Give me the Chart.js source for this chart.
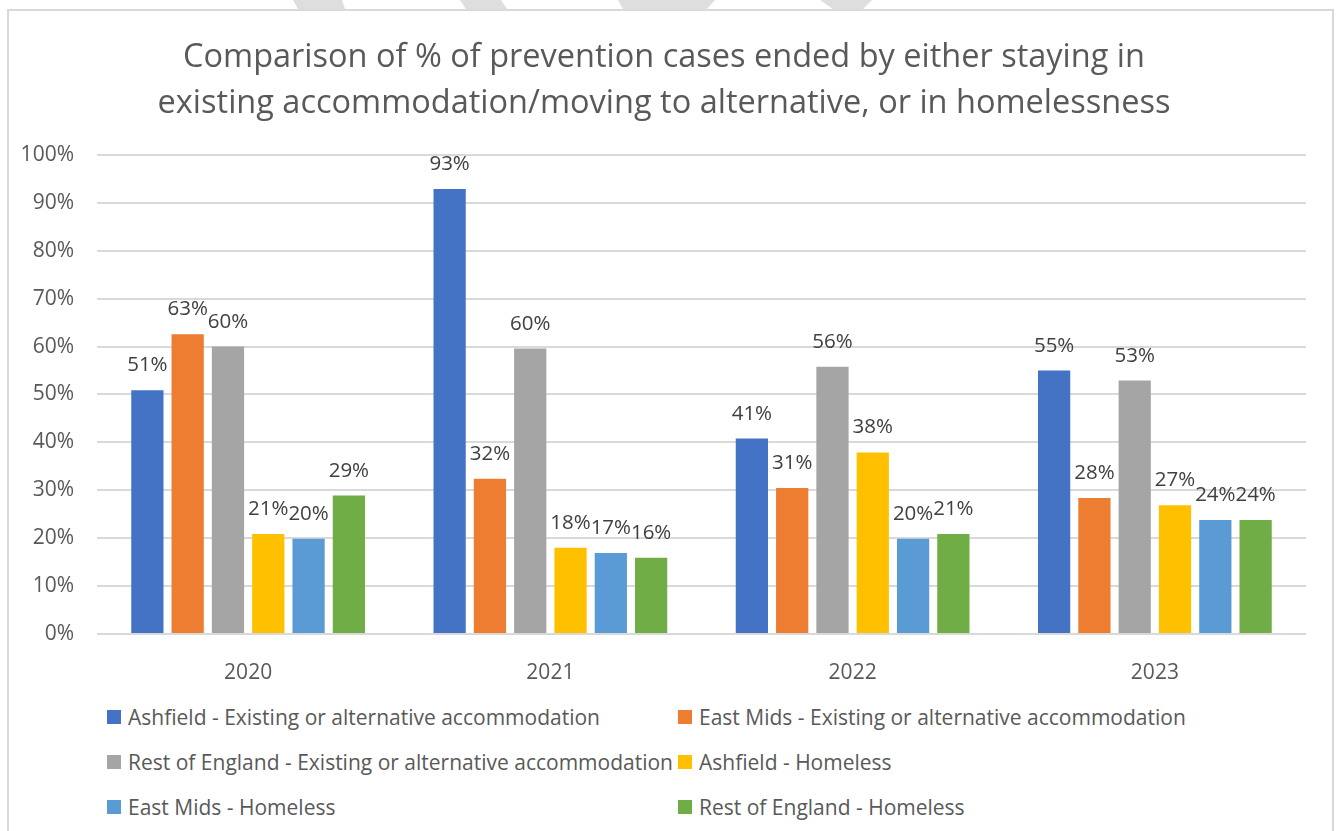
<!DOCTYPE html>
<html>
<head>
<meta charset="utf-8">
<script src="https://cdn.jsdelivr.net/npm/chart.js@4"></script>
<style>
  body { margin: 0; background: #fff; width: 1339px; height: 831px; overflow: hidden; position: relative; font-family: "Open Sans", sans-serif; }
  #frame { position: absolute; left: 7px; top: 9px; width: 1327px; height: 840px; border: 2px solid #d9d9d9; box-sizing: border-box; }
  #marks { position: absolute; left: 0; top: 0; }
  #chart_box { position: absolute; left: 0; top: 0; width: 1339px; height: 700px; }
  .legend_item { position: absolute; display: flex; align-items: center; font-size: 21px; color: #595959; white-space: nowrap; height: 30px; }
  .legend_box { width: 14px; height: 14px; margin-right: 7px; }
</style>
</head>
<body>
<svg id="marks" width="1339" height="12">
  <polygon points="293,0 342,0 345,9 298,9" fill="#dedede"/>
  <polygon points="460,0 501,0 507,9 466,9" fill="#dedede"/>
  <polygon points="618,0 715,0 707,9 623,9" fill="#dedede"/>
  <polygon points="820,0 872,0 863,9 833,9" fill="#dedede"/>
</svg>
<div id="frame"></div>
<div id="chart_box"><canvas id="chart"></canvas></div>
<div id="legend"></div>
<script>
const years = ["2020", "2021", "2022", "2023"];
const series_names = [
    "Ashfield - Existing or alternative accommodation",
    "East Mids - Existing or alternative accommodation",
    "Rest of England - Existing or alternative accommodation",
    "Ashfield - Homeless",
    "East Mids - Homeless",
    "Rest of England - Homeless"
];
const ashfield_existing = [50.9, 92.9, 40.8, 55.0];
const eastmids_existing = [62.6, 32.4, 30.5, 28.4];
const england_existing = [60.0, 59.6, 55.8, 52.9];
const ashfield_homeless = [20.9, 18.0, 37.9, 26.9];
const eastmids_homeless = [19.9, 16.9, 19.9, 23.8];
const england_homeless = [28.9, 15.9, 20.9, 23.8];
const colours = ["#4472C4", "#ED7D31", "#A5A5A5", "#FFC000", "#5B9BD5", "#70AD47"];
const y_ticks = [0, 10, 20, 30, 40, 50, 60, 70, 80, 90, 100];

const all_series = [ashfield_existing, eastmids_existing, england_existing,
                    ashfield_homeless, eastmids_homeless, england_homeless];

// value labels above each bar, like the Excel data labels
const bar_labels = {
    id: "bar_labels",
    afterDatasetsDraw(chart) {
        const ctx = chart.ctx;
        ctx.save();
        ctx.font = '20.5px "Open Sans"';
        ctx.fillStyle = "#404040";
        ctx.textAlign = "center";
        ctx.textBaseline = "alphabetic";
        chart.data.datasets.forEach((ds, i) => {
            const meta = chart.getDatasetMeta(i);
            meta.data.forEach((bar, j) => {
                ctx.fillText(Math.round(ds.data[j]) + "%", bar.x, bar.y - 19);
            });
        });
        ctx.restore();
    }
};

function draw_chart() {
    const chart = new Chart(document.getElementById("chart"), {
        type: "bar",
        data: {
            labels: years,
            datasets: all_series.map((vals, i) => ({
                label: series_names[i],
                data: vals,
                backgroundColor: colours[i],
                categoryPercentage: 0.8,
                barPercentage: 0.8
            }))
        },
        options: {
            responsive: false,
            animation: false,
            layout: { padding: { left: 22, right: 33, top: 0, bottom: 0 } },
            plugins: {
                legend: { display: false },
                tooltip: { enabled: false },
                title: {
                    display: true,
                    text: ["Comparison of % of prevention cases ended by either staying in",
                           "existing accommodation/moving to alternative, or in homelessness"],
                    color: "#595959",
                    font: { family: "Open Sans", size: 32.5, weight: "normal", lineHeight: 1.415 },
                    padding: { top: 35, bottom: 28 }
                }
            },
            scales: {
                x: {
                    grid: { display: false },
                    border: { display: false },
                    ticks: { color: "#595959", font: { family: "Open Sans", size: 21 }, padding: 18 },
                    afterFit(scale) { scale.height = 66; }
                },
                y: {
                    min: 0,
                    max: 100,
                    afterBuildTicks(scale) { scale.ticks = y_ticks.map(v => ({ value: v })); },
                    grid: { color: "#d9d9d9", lineWidth: 2, drawTicks: false },
                    border: { display: false },
                    ticks: {
                        color: "#595959",
                        font: { family: "Open Sans", size: 21 },
                        padding: 23,
                        callback: v => v + "%"
                    },
                    afterFit(scale) { scale.width = 75; }
                }
            }
        },
        plugins: [bar_labels]
    });

    // legend in two columns, as in the original
    const legend = document.getElementById("legend");
    const col_x = [107, 678];
    const row_y = [702, 747, 792];
    chart.data.datasets.forEach((ds, i) => {
        const item = document.createElement("div");
        item.className = "legend_item";
        item.style.left = col_x[i % 2] + "px";
        item.style.top = row_y[Math.floor(i / 2)] + "px";
        const box = document.createElement("span");
        box.className = "legend_box";
        box.style.background = ds.backgroundColor;
        const txt = document.createElement("span");
        txt.textContent = ds.label;
        item.appendChild(box);
        item.appendChild(txt);
        legend.appendChild(item);
    });
}

const canvas = document.getElementById("chart");
canvas.width = 1339;
canvas.height = 700;
document.fonts.load('20px "Open Sans"').then(draw_chart, draw_chart);
</script>
</body>
</html>
